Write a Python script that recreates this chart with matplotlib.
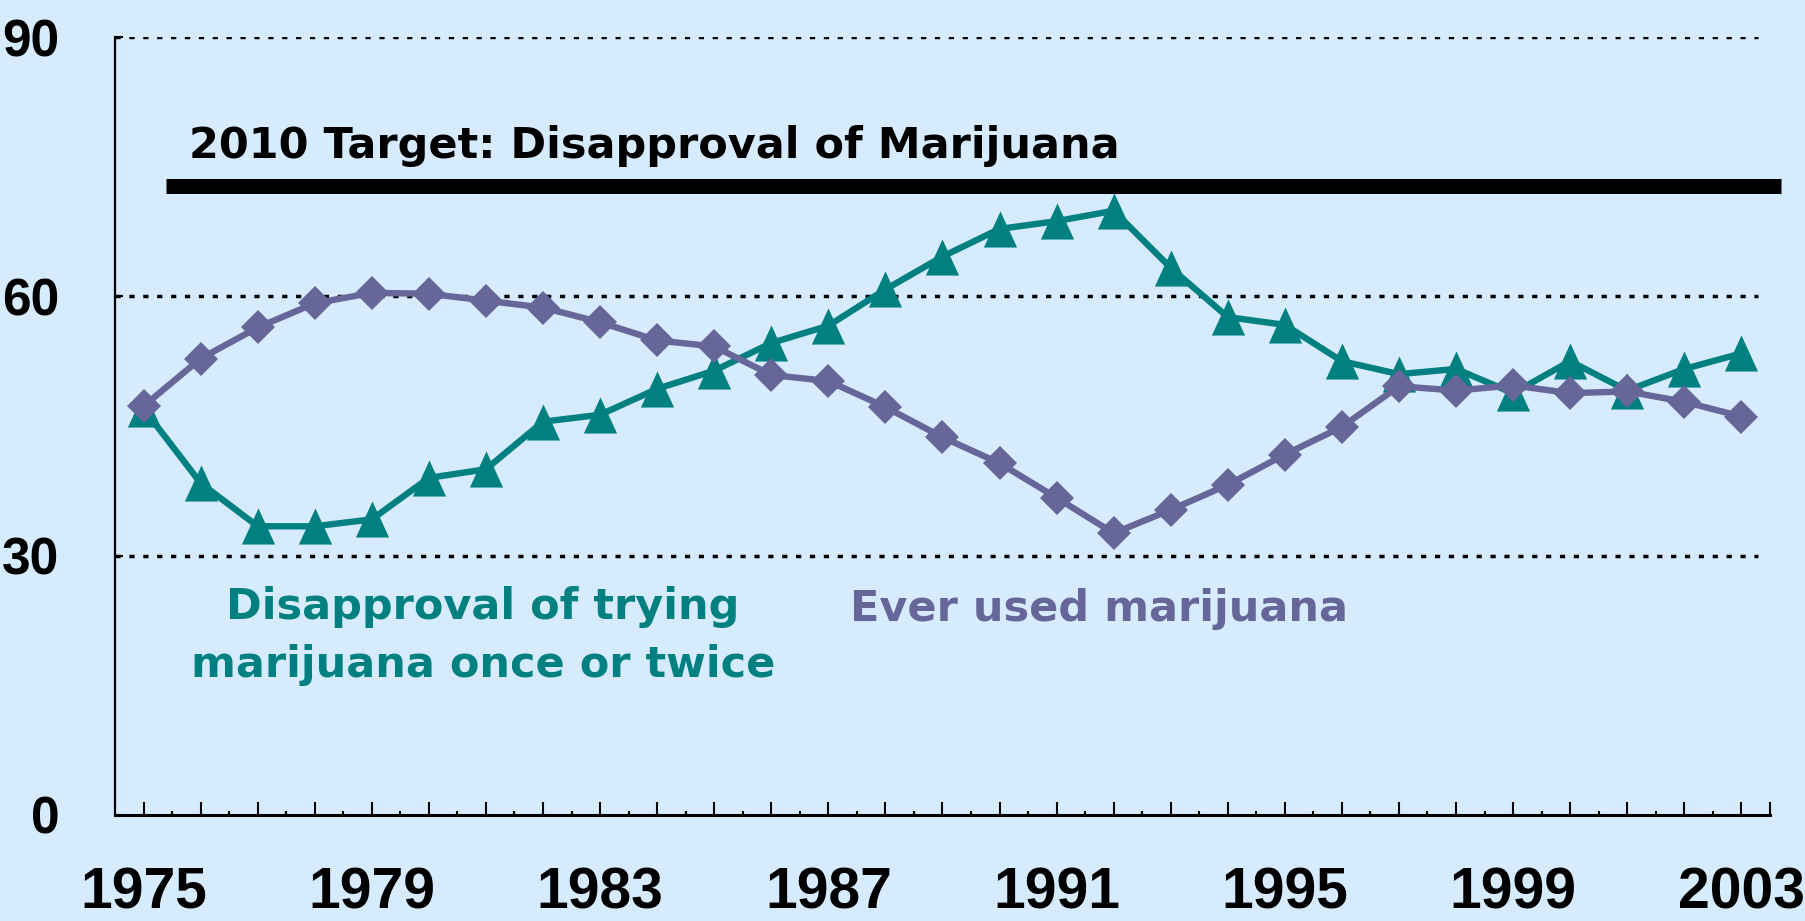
import matplotlib

matplotlib.use("agg")

import matplotlib.pyplot as plt

# values
years = list(range(1975, 2004))
disapproval = [47.0, 38.4, 33.4, 33.4, 34.2, 39.0, 40.0, 45.5, 46.3, 49.3,
               51.4, 54.6, 56.6, 60.8, 64.6, 67.8, 68.7, 69.9, 63.3, 57.6,
               56.7, 52.5, 51.0, 51.6, 48.8, 52.5, 49.1, 51.6, 53.4]
ever_used = [47.3, 52.8, 56.4, 59.2, 60.4, 60.3, 59.5, 58.7, 57.0, 54.9,
             54.2, 50.9, 50.2, 47.2, 43.7, 40.7, 36.7, 32.6, 35.3, 38.2,
             41.7, 44.9, 49.6, 49.1, 49.7, 48.8, 49.0, 47.8, 46.1]
target_value = 72.8
target_label = "2010 Target: Disapproval of Marijuana"
yticks = [0, 30, 60, 90]
xlabel_years = [1975, 1979, 1983, 1987, 1991, 1995, 1999, 2003]

bg = "#D7EBFF"
teal = "#008080"
purple = "#666699"

fig = plt.figure(figsize=(18.06, 9.21), dpi=100, facecolor=bg)
ax = fig.add_axes([0.0637, 0.1151, 0.9163, 0.8447], facecolor=bg)

ax.set_xlim(1974.5, 2003.5)
ax.set_ylim(0, 90)

# dotted gridlines
for y in yticks[1:]:
    ax.axhline(y, xmax=0.993, color="black", lw=2.5,
               linestyle=(0, (1.5, 2.5)), zorder=1)

# slightly taller than wide triangle, like the original
tri = [(0, 1), (-0.92, -1), (0.92, -1), (0, 1)]
ax.plot(years, disapproval, color=teal, lw=4.6, marker=tri, ms=26,
        mew=0, zorder=3)
ax.plot(years, ever_used, color=purple, lw=4.6, marker="D", ms=17.5,
        mew=0, zorder=4)

# target line
ax.plot([1975.4, 2003.7], [target_value, target_value], color="black",
        lw=10.8, solid_capstyle="butt", clip_on=False, zorder=5)
ax.text(1975.8, 76.0, target_label, fontsize=31, fontweight="bold",
        family="DejaVu Sans", ha="left", va="baseline", color="black")

ax.text(1980.95, 22.7, "Disapproval of trying", fontsize=31,
        fontweight="bold", family="DejaVu Sans", ha="center",
        va="baseline", color=teal)
ax.text(1980.95, 16.0, "marijuana once or twice", fontsize=31,
        fontweight="bold", family="DejaVu Sans", ha="center",
        va="baseline", color=teal)
ax.text(1987.38, 22.5, "Ever used marijuana", fontsize=31,
        fontweight="bold", family="DejaVu Sans", ha="left",
        va="baseline", color=purple)

# axes styling
for side in ["top", "right"]:
    ax.spines[side].set_visible(False)
ax.spines["left"].set_linewidth(1.6)
ax.spines["bottom"].set_linewidth(2.2)

ax.set_yticks(yticks)
ax.set_yticklabels([str(v) for v in yticks], fontsize=37,
                   fontweight="bold", family="Liberation Sans")
ax.tick_params(axis="y", direction="in", length=6, width=1.5, pad=40)

ax.set_xticks(years + [2003.5])
ax.set_xticklabels([str(y) if y in xlabel_years else "" for y in years] + [""],
                   fontsize=41, fontweight="bold", family="Liberation Sans")
ax.set_xticks([y + 0.5 for y in years[:-1]], minor=True)
ax.tick_params(axis="x", which="major", direction="in", length=9.5,
               width=1.5, pad=37)
ax.tick_params(axis="x", which="minor", direction="in", length=3, width=1.5)

fig.savefig("out.png", dpi=100, facecolor=bg)
